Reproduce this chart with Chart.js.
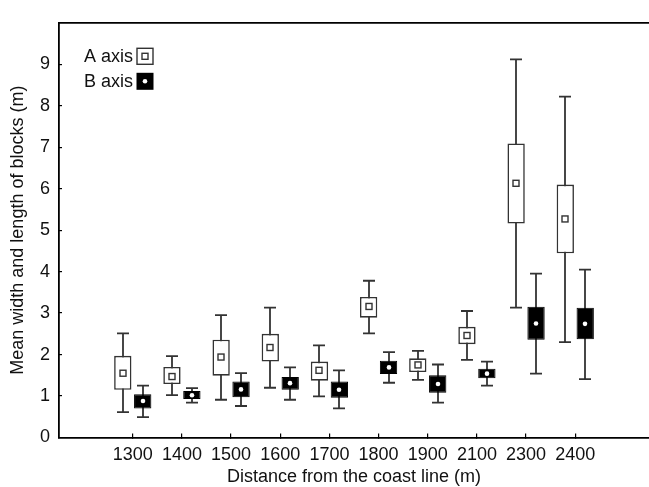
<!DOCTYPE html>
<html>
<head>
<meta charset="utf-8">
<script src="https://cdn.jsdelivr.net/npm/chart.js@4.4.1/dist/chart.umd.min.js"></script>
<style>
  html, body { margin: 0; padding: 0; background: #fff; }
  #wrap { width: 649px; height: 487px; }
</style>
</head>
<body>
<div id="wrap"><canvas id="chart"></canvas></div>
<script>
// Distance categories; empty slots pad the axis on both sides
const distances = ['', '1300', '1400', '1500', '1600', '1700', '1800', '1900', '2100', '2300', '2400', ''];

// A axis (per distance): whisker low, box low, mean, box high, whisker high
const aMin  = [null, 0.61, 1.02, 0.91, 1.20, 0.99, 2.51, 1.39, 1.87, 3.13, 2.30, null];
const aQ1   = [null, 1.15, 1.29, 1.49, 1.83, 1.37, 2.89, 1.58, 2.25, 5.16, 4.44, null];
const aMean = [null, 1.55, 1.47, 1.94, 2.17, 1.62, 3.16, 1.75, 2.46, 6.13, 5.27, null];
const aQ3   = [null, 1.97, 1.70, 2.36, 2.50, 1.83, 3.39, 1.91, 2.67, 7.09, 6.10, null];
const aMax  = [null, 2.51, 1.96, 2.95, 3.13, 2.22, 3.78, 2.09, 3.05, 9.12, 8.22, null];

// B axis
const bMin  = [null, 0.49, 0.84, 0.76, 0.91, 0.70, 1.32, 0.84, 1.25, 1.54, 1.41, null];
const bQ1   = [null, 0.70, 0.93, 0.97, 1.15, 0.96, 1.53, 1.08, 1.43, 2.36, 2.37, null];
const bMean = [null, 0.88, 1.02, 1.16, 1.31, 1.15, 1.69, 1.29, 1.54, 2.75, 2.74, null];
const bQ3   = [null, 1.04, 1.12, 1.35, 1.46, 1.35, 1.85, 1.50, 1.66, 3.15, 3.13, null];
const bMax  = [null, 1.25, 1.19, 1.55, 1.69, 1.62, 2.06, 1.76, 1.83, 3.95, 4.05, null];

const yTicks = [0, 1, 2, 3, 4, 5, 6, 7, 8, 9];

const FONT = 'Liberation Sans, Arial, Helvetica, sans-serif';
const LINE = '#333';

const boxes = (lo, hi) => lo.map((v, i) => (v === null ? null : [v, hi[i]]));

// whiskers under the boxes, mean markers on top
const boxPlotExtras = {
    id: 'boxPlotExtras',
    beforeDatasetsDraw(chart) {
        const { ctx } = chart;
        const y = chart.scales.y;
        const sets = [[aMin, aQ1, aQ3, aMax], [bMin, bQ1, bQ3, bMax]];
        ctx.save();
        ctx.strokeStyle = LINE;
        ctx.lineWidth = 1.8;
        sets.forEach(([lo, q1, q3, hi], d) => {
            chart.getDatasetMeta(d).data.forEach((bar, i) => {
                if (lo[i] === null) return;
                const x = Math.round(bar.x);
                const yLo = y.getPixelForValue(lo[i]);
                const yHi = y.getPixelForValue(hi[i]);
                ctx.beginPath();
                ctx.moveTo(x, yLo);
                ctx.lineTo(x, yHi);
                ctx.moveTo(x - 6, yLo);
                ctx.lineTo(x + 6, yLo);
                ctx.moveTo(x - 6, yHi);
                ctx.lineTo(x + 6, yHi);
                ctx.stroke();
            });
        });
        ctx.restore();
    },
    afterDatasetsDraw(chart) {
        const { ctx } = chart;
        const y = chart.scales.y;
        ctx.save();
        chart.getDatasetMeta(0).data.forEach((bar, i) => {
            if (aMean[i] === null) return;
            const x = Math.round(bar.x);
            const yy = y.getPixelForValue(aMean[i]);
            ctx.fillStyle = '#fff';
            ctx.strokeStyle = LINE;
            ctx.lineWidth = 1.4;
            ctx.fillRect(x - 3, yy - 3, 6, 6);
            ctx.strokeRect(x - 3, yy - 3, 6, 6);
        });
        chart.getDatasetMeta(1).data.forEach((bar, i) => {
            if (bMean[i] === null) return;
            const x = Math.round(bar.x);
            const yy = y.getPixelForValue(bMean[i]);
            ctx.fillStyle = '#fff';
            ctx.beginPath();
            ctx.arc(x, yy, 2.3, 0, Math.PI * 2);
            ctx.fill();
        });

        // legend in the upper-left corner of the plot
        const left = chart.chartArea.left;
        const top = chart.chartArea.top;
        ctx.font = '18px ' + FONT;
        ctx.fillStyle = '#111';
        ctx.textAlign = 'right';
        ctx.textBaseline = 'middle';
        ctx.fillText('A axis', left + 74, top + 34);
        ctx.fillText('B axis', left + 74, top + 59);
        ctx.strokeStyle = LINE;
        ctx.lineWidth = 1.4;
        ctx.fillStyle = '#fff';
        ctx.fillRect(left + 78, top + 25.5, 16, 16);
        ctx.strokeRect(left + 78, top + 25.5, 16, 16);
        ctx.fillRect(left + 83, top + 30.5, 6, 6);
        ctx.strokeRect(left + 83, top + 30.5, 6, 6);
        ctx.fillStyle = '#000';
        ctx.fillRect(left + 77.5, top + 50, 17, 17);
        ctx.fillStyle = '#fff';
        ctx.beginPath();
        ctx.arc(left + 86, top + 58.5, 2.3, 0, Math.PI * 2);
        ctx.fill();
        ctx.restore();
    }
};

new Chart(document.getElementById('chart'), {
    type: 'bar',
    data: {
        labels: distances,
        datasets: [
            {
                label: 'A axis',
                data: boxes(aQ1, aQ3),
                backgroundColor: '#fff',
                borderColor: LINE,
                borderWidth: 1.6,
                borderSkipped: false,
                categoryPercentage: 0.81,
                barPercentage: 0.87
            },
            {
                label: 'B axis',
                data: boxes(bQ1, bQ3),
                backgroundColor: '#000',
                borderColor: '#000',
                borderWidth: 1,
                borderSkipped: false,
                categoryPercentage: 0.81,
                barPercentage: 0.87
            }
        ]
    },
    options: {
        responsive: true,
        maintainAspectRatio: false,
        animation: false,
        layout: { padding: 0 },
        plugins: {
            legend: { display: false },
            tooltip: { enabled: false }
        },
        scales: {
            x: {
                offset: true,
                afterFit: (scale) => { scale.height = 49.5; },
                grid: {
                    offset: false,
                    drawOnChartArea: false,
                    tickLength: -4,
                    lineWidth: 1.2,
                    color: (ctx) => (ctx.index === 0 || ctx.index === distances.length - 1) ? 'rgba(0,0,0,0)' : '#000'
                },
                border: { color: '#000', width: 1.8 },
                ticks: {
                    color: '#111',
                    font: { family: FONT, size: 18 },
                    padding: 11,
                    maxRotation: 0,
                    autoSkip: false
                },
                title: {
                    display: true,
                    text: 'Distance from the coast line (m)',
                    color: '#111',
                    font: { family: FONT, size: 18 },
                    padding: { top: 0, bottom: -1 }
                }
            },
            x2: {
                position: 'top',
                afterFit: (scale) => { scale.height = 12; },
                grid: { display: false },
                border: { color: '#000', width: 1.8 },
                ticks: { display: false }
            },
            y: {
                min: 0,
                max: 10,
                afterFit: (scale) => { scale.width = 59; },
                afterBuildTicks: (scale) => { scale.ticks = yTicks.concat([10]).map(v => ({ value: v })); },
                grid: {
                    drawOnChartArea: false,
                    tickLength: -3,
                    lineWidth: 1.2,
                    color: (ctx) => (ctx.tick && ctx.tick.value > 0 && ctx.tick.value < 10) ? '#000' : 'rgba(0,0,0,0)'
                },
                border: { color: '#000', width: 1.8 },
                ticks: {
                    color: '#111',
                    font: { family: FONT, size: 18 },
                    padding: 12,
                    callback: (v) => (yTicks.includes(v) ? String(v) : '')
                },
                title: {
                    display: true,
                    text: 'Mean width and length of blocks (m)',
                    color: '#111',
                    font: { family: FONT, size: 18 },
                    padding: { top: 7, bottom: 0 }
                }
            }
        }
    },
    plugins: [boxPlotExtras]
});
</script>
</body>
</html>
